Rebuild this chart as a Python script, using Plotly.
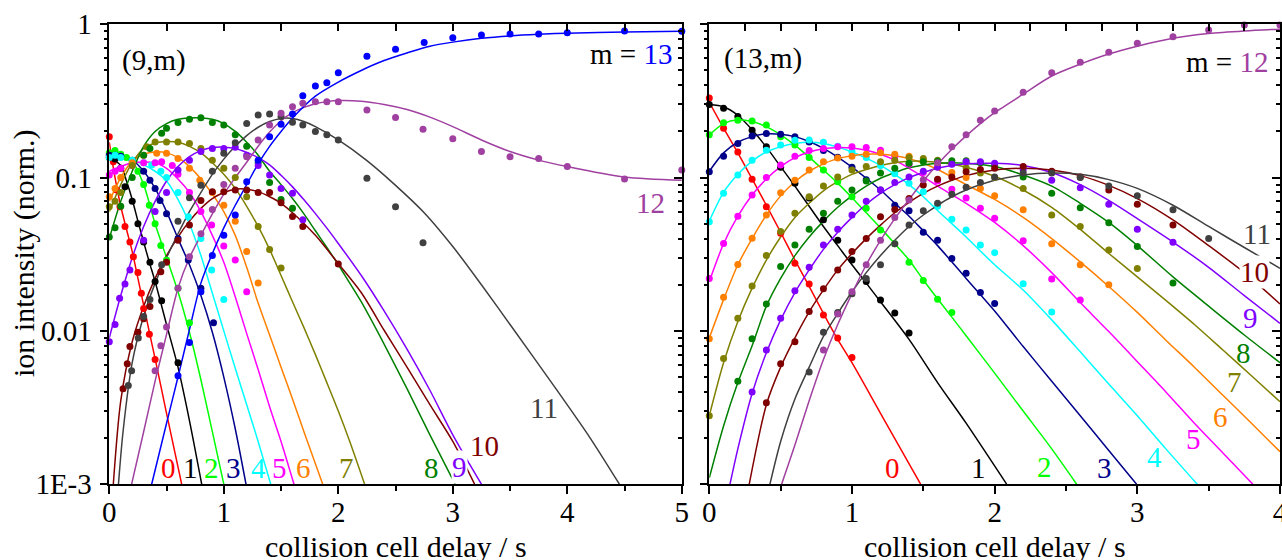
import plotly.graph_objects as go

# ---------------- (9,m) panel: fitted curves and measured points ----------------
a0_fit_t = [0, 0.05, 0.1, 0.15, 0.2, 0.25, 0.3, 0.35, 0.4, 0.5, 0.632]
a0_fit_v = [0.17, 0.1, 0.065, 0.046, 0.033, 0.022, 0.0147, 0.0098, 0.0066, 0.0029, 0.001]
a0_obs_t = [0, 0.035, 0.065, 0.093, 0.137, 0.18, 0.21, 0.25, 0.28, 0.3, 0.35, 0.4]
a0_obs_v = [0.185, 0.127, 0.083, 0.0645, 0.048, 0.038, 0.0305, 0.024, 0.0176, 0.014, 0.0095, 0.0065]

a1_fit_t = [0, 0.1, 0.15, 0.2, 0.25, 0.3, 0.35, 0.4, 0.5, 0.6, 0.7, 0.807]
a1_fit_v = [0.135, 0.12, 0.095, 0.072, 0.052, 0.038, 0.028, 0.021, 0.011, 0.0058, 0.0026, 0.001]
a1_obs_t = [0, 0.05, 0.1, 0.137, 0.2, 0.25, 0.3, 0.355, 0.4, 0.457, 0.6]
a1_obs_v = [0.135, 0.132, 0.115, 0.087, 0.07, 0.05, 0.038, 0.028, 0.021, 0.0157, 0.0062]

a2_fit_t = [0, 0.1, 0.2, 0.3, 0.4, 0.5, 0.6, 0.7, 0.8, 0.9, 1.0]
a2_fit_v = [0.145, 0.142, 0.128, 0.09, 0.05, 0.03, 0.018, 0.0098, 0.0048, 0.0022, 0.001]
a2_obs_t = [0, 0.05, 0.1, 0.15, 0.2, 0.25, 0.3, 0.35, 0.4, 0.45, 0.5, 0.6, 0.7]
a2_obs_v = [0.145, 0.15, 0.142, 0.135, 0.125, 0.11, 0.09, 0.066, 0.05, 0.036, 0.029, 0.019, 0.0113]

a3_fit_t = [0, 0.2, 0.3, 0.4, 0.5, 0.6, 0.7, 0.8, 0.9, 1.0, 1.1, 1.194]
a3_fit_v = [0.14, 0.13, 0.11, 0.085, 0.06, 0.04, 0.027, 0.017, 0.0098, 0.005, 0.0023, 0.001]
a3_obs_t = [0, 0.05, 0.1, 0.2, 0.3, 0.355, 0.4, 0.443, 0.5, 0.6, 0.69, 0.8, 0.91]
a3_obs_v = [0.14, 0.14, 0.138, 0.13, 0.11, 0.096, 0.085, 0.071, 0.058, 0.04, 0.029, 0.019, 0.0113]

a4_fit_t = [0, 0.2, 0.4, 0.5, 0.6, 0.7, 0.8, 0.865, 1.0, 1.1, 1.2, 1.3, 1.41]
a4_fit_v = [0.135, 0.13, 0.11, 0.095, 0.072, 0.05, 0.031, 0.0215, 0.01, 0.0057, 0.0033, 0.0019, 0.001]
a4_obs_t = [0, 0.05, 0.1, 0.2, 0.3, 0.37, 0.45, 0.5, 0.6, 0.69, 0.8, 0.894, 1.0]
a4_obs_v = [0.135, 0.14, 0.135, 0.13, 0.125, 0.121, 0.11, 0.1, 0.08, 0.0556, 0.04, 0.025, 0.016]

a5_fit_t = [0, 0.2, 0.4, 0.5, 0.6, 0.7, 0.8, 0.9, 1.0, 1.1, 1.2, 1.3, 1.4, 1.5, 1.613]
a5_fit_v = [0.11, 0.125, 0.125, 0.115, 0.098, 0.08, 0.06, 0.042, 0.028, 0.0167, 0.0096, 0.0056, 0.0032, 0.0019, 0.001]
a5_obs_t = [0, 0.05, 0.1, 0.2, 0.3, 0.4, 0.457, 0.55, 0.6, 0.7, 0.8, 0.894, 1.0, 1.1, 1.2]
a5_obs_v = [0.104, 0.11, 0.115, 0.12, 0.125, 0.125, 0.127, 0.12, 0.105, 0.08, 0.06, 0.049, 0.0358, 0.029, 0.018]

a6_fit_t = [0, 0.1, 0.2, 0.3, 0.4, 0.5, 0.6, 0.7, 0.8, 0.9, 1.0, 1.1, 1.2, 1.3, 1.4, 1.5, 1.6, 1.7, 1.864]
a6_fit_v = [0.07, 0.1, 0.128, 0.142, 0.147, 0.145, 0.135, 0.118, 0.098, 0.078, 0.06, 0.042, 0.026, 0.0152, 0.0094, 0.0058, 0.0036, 0.0022, 0.001]
a6_obs_t = [0, 0.05, 0.1, 0.2, 0.3, 0.414, 0.5, 0.6, 0.7, 0.79, 0.9, 1.0, 1.1, 1.2, 1.3]
a6_obs_v = [0.075, 0.085, 0.1, 0.125, 0.14, 0.144, 0.144, 0.133, 0.115, 0.096, 0.08, 0.066, 0.052, 0.033, 0.0205]

a7_fit_t = [0, 0.1, 0.2, 0.3, 0.4, 0.5, 0.6, 0.7, 0.8, 0.9, 1.0, 1.1, 1.2, 1.3, 1.4, 1.5, 1.6, 1.7, 1.8, 1.9, 2.0, 2.1, 2.23]
a7_fit_v = [0.06, 0.09, 0.125, 0.155, 0.168, 0.172, 0.17, 0.16, 0.145, 0.125, 0.105, 0.085, 0.065, 0.048, 0.034, 0.023, 0.0155, 0.0105, 0.007, 0.0046, 0.003, 0.0019, 0.001]
a7_obs_t = [0, 0.05, 0.1, 0.2, 0.327, 0.4, 0.5, 0.6, 0.7, 0.8, 0.9, 1.0, 1.1, 1.2, 1.3, 1.4, 1.5]
a7_obs_v = [0.0645, 0.07, 0.08, 0.12, 0.159, 0.171, 0.171, 0.171, 0.167, 0.155, 0.13, 0.115, 0.1, 0.075, 0.048, 0.034, 0.0257]

a8_fit_t = [0, 0.1, 0.2, 0.3, 0.4, 0.5, 0.6, 0.7, 0.8, 0.9, 1.0, 1.1, 1.2, 1.3, 1.4, 1.5, 1.6, 1.7, 1.8, 1.9, 2.0, 2.1, 2.2, 2.4, 2.6, 2.8, 3.02]
a8_fit_v = [0.04, 0.07, 0.11, 0.16, 0.2, 0.225, 0.24, 0.245, 0.245, 0.24, 0.225, 0.2, 0.17, 0.14, 0.11, 0.09, 0.073, 0.058, 0.045, 0.035, 0.027, 0.0205, 0.0155, 0.0082, 0.0042, 0.0021, 0.001]
a8_obs_t = [0, 0.05, 0.1, 0.2, 0.3, 0.355, 0.457, 0.5, 0.6, 0.7, 0.8, 0.9, 1.0, 1.1, 1.2, 1.3, 1.4, 1.5, 1.6]
a8_obs_v = [0.041, 0.047, 0.065, 0.1, 0.14, 0.155, 0.195, 0.21, 0.229, 0.24, 0.246, 0.229, 0.22, 0.19, 0.16, 0.125, 0.093, 0.072, 0.063]

a9_fit_t = [0, 0.1, 0.2, 0.3, 0.4, 0.5, 0.6, 0.7, 0.8, 0.9, 1.0, 1.1, 1.2, 1.3, 1.4, 1.5, 1.6, 1.7, 1.8, 1.9, 2.0, 2.22, 2.4, 2.6, 2.8, 3.0, 3.25]
a9_fit_v = [0.009, 0.017, 0.03, 0.048, 0.07, 0.095, 0.118, 0.137, 0.15, 0.157, 0.158, 0.155, 0.146, 0.135, 0.121, 0.1035, 0.087, 0.0716, 0.0582, 0.0468, 0.0372, 0.0219, 0.0135, 0.0076, 0.0041, 0.0021, 0.001]
a9_obs_t = [0, 0.05, 0.09, 0.137, 0.18, 0.3, 0.4, 0.5, 0.6, 0.7, 0.8, 0.9, 1.0, 1.1, 1.2, 1.3, 1.4, 1.5, 1.6, 1.69]
a9_obs_v = [0.0085, 0.011, 0.0163, 0.0202, 0.025, 0.039, 0.06, 0.08, 0.112, 0.13, 0.148, 0.155, 0.155, 0.158, 0.14, 0.12, 0.104, 0.085, 0.079, 0.053]

a10_fit_t = [0.035, 0.1, 0.2, 0.3, 0.4, 0.5, 0.6, 0.7, 0.8, 0.9, 1.0, 1.1, 1.2, 1.3, 1.4, 1.5, 1.6, 1.8, 2.0, 2.2, 2.4, 2.6, 2.8, 3.0, 3.19]
a10_fit_v = [0.001, 0.0035, 0.0085, 0.0145, 0.022, 0.031, 0.041, 0.052, 0.063, 0.073, 0.08, 0.084, 0.084, 0.081, 0.075, 0.068, 0.059, 0.042, 0.0275, 0.0178, 0.0101, 0.0058, 0.0033, 0.0019, 0.001]
a10_obs_t = [0.12, 0.157, 0.18, 0.25, 0.3, 0.355, 0.45, 0.5, 0.6, 0.7, 0.8, 0.9, 1.0, 1.1, 1.2, 1.3, 1.4, 1.5, 1.6, 1.69, 2.0]
a10_obs_v = [0.0042, 0.0061, 0.0079, 0.0098, 0.012, 0.0144, 0.0243, 0.028, 0.039, 0.049, 0.071, 0.081, 0.081, 0.083, 0.083, 0.08, 0.08, 0.0686, 0.0557, 0.048, 0.0273]

a11_fit_t = [0.08, 0.12, 0.2, 0.3, 0.4, 0.5, 0.6, 0.7, 0.8, 0.9, 1.0, 1.1, 1.2, 1.3, 1.4, 1.5, 1.6, 1.7, 1.8, 2.0, 2.25, 2.5, 2.75, 3.0, 3.25, 3.5, 3.9, 4.2, 4.455]
a11_fit_v = [0.001, 0.0022, 0.0062, 0.0125, 0.0205, 0.03, 0.043, 0.06, 0.08, 0.105, 0.132, 0.16, 0.188, 0.213, 0.232, 0.243, 0.243, 0.232, 0.215, 0.176, 0.129, 0.089, 0.059, 0.0355, 0.02, 0.011, 0.0042, 0.002, 0.001]
a11_obs_t = [0.166, 0.195, 0.253, 0.3, 0.355, 0.457, 0.6, 0.7, 0.8, 0.9, 1.0, 1.1, 1.2, 1.3, 1.4, 1.5, 1.6, 1.69, 1.8, 1.9, 2.0, 2.25, 2.5, 2.74]
a11_obs_v = [0.0044, 0.0055, 0.009, 0.0124, 0.016, 0.027, 0.052, 0.074, 0.089, 0.11, 0.144, 0.169, 0.225, 0.256, 0.26, 0.25, 0.23, 0.22, 0.2, 0.19, 0.176, 0.099, 0.0645, 0.0376]

a12_fit_t = [0.195, 0.3, 0.4, 0.5, 0.6, 0.7, 0.8, 0.9, 1.0, 1.1, 1.2, 1.3, 1.4, 1.5, 1.6, 1.7, 1.8, 1.9, 2.0, 2.2, 2.4, 2.6, 2.8, 3.0, 3.25, 3.5, 3.75, 4.0, 4.5, 5.0]
a12_fit_v = [0.001, 0.0022, 0.0047, 0.0095, 0.019, 0.03, 0.042, 0.058, 0.078, 0.1, 0.126, 0.16, 0.198, 0.235, 0.265, 0.287, 0.303, 0.313, 0.318, 0.315, 0.3, 0.278, 0.248, 0.215, 0.176, 0.148, 0.13, 0.118, 0.101, 0.096]
a12_obs_t = [0.4, 0.45, 0.5, 0.6, 0.7, 0.8, 0.9, 1.0, 1.1, 1.2, 1.3, 1.4, 1.5, 1.6, 1.69, 1.8, 1.9, 2.0, 2.25, 2.5, 2.74, 3.0, 3.25, 3.5, 3.75, 4.0, 4.5, 5.0]
a12_obs_v = [0.0055, 0.008, 0.0106, 0.019, 0.0305, 0.043, 0.062, 0.09, 0.115, 0.137, 0.176, 0.22, 0.263, 0.29, 0.305, 0.313, 0.313, 0.313, 0.276, 0.247, 0.207, 0.179, 0.148, 0.137, 0.133, 0.118, 0.098, 0.112]

a13_fit_t = [0.37, 0.5, 0.6, 0.7, 0.8, 0.9, 1.0, 1.1, 1.2, 1.3, 1.4, 1.5, 1.6, 1.8, 2.0, 2.2, 2.4, 2.6, 2.8, 3.0, 3.25, 3.5, 3.75, 4.0, 4.5, 5.0]
a13_fit_v = [0.001, 0.0025, 0.005, 0.0102, 0.0205, 0.032, 0.047, 0.066, 0.09, 0.123, 0.16, 0.2, 0.245, 0.34, 0.42, 0.5, 0.58, 0.65, 0.72, 0.765, 0.81, 0.84, 0.86, 0.875, 0.89, 0.9]
a13_obs_t = [0.6, 0.7, 0.8, 0.9, 1.0, 1.1, 1.2, 1.3, 1.4, 1.5, 1.6, 1.69, 1.8, 1.9, 2.0, 2.25, 2.5, 2.75, 3.0, 3.25, 3.5, 3.75, 4.0, 4.5, 5.0]
a13_obs_v = [0.0051, 0.0084, 0.018, 0.031, 0.042, 0.057, 0.094, 0.13, 0.185, 0.223, 0.26, 0.342, 0.396, 0.416, 0.483, 0.62, 0.687, 0.76, 0.818, 0.85, 0.864, 0.866, 0.88, 0.904, 0.9]

# ---------------- (13,m) panel: fitted curves and measured points ----------------
b0_fit_t = [0, 0.1, 0.2, 0.3, 0.4, 0.5, 0.6, 0.7, 0.8, 0.9, 1.0, 1.2, 1.481]
b0_fit_v = [0.31, 0.21, 0.145, 0.098, 0.066, 0.044, 0.029, 0.0195, 0.013, 0.0088, 0.0062, 0.0029, 0.001]
b0_obs_t = [0, 0.1, 0.2, 0.3, 0.4, 0.5, 0.6, 0.7, 0.8, 0.9, 1.0]
b0_obs_v = [0.33, 0.21, 0.147, 0.0975, 0.0646, 0.0433, 0.0276, 0.0202, 0.0127, 0.009, 0.0067]

b1_fit_t = [0, 0.1, 0.2, 0.3, 0.4, 0.5, 0.6, 0.7, 0.8, 0.9, 1.0, 1.1, 1.2, 1.4, 1.6, 1.8, 2.084]
b1_fit_v = [0.3, 0.29, 0.255, 0.205, 0.158, 0.118, 0.088, 0.065, 0.048, 0.036, 0.027, 0.0205, 0.0155, 0.0088, 0.0046, 0.0025, 0.001]
b1_obs_t = [0, 0.1, 0.2, 0.3, 0.4, 0.5, 0.6, 0.7, 0.8, 0.9, 1.0, 1.1, 1.2, 1.3, 1.4]
b1_obs_v = [0.3, 0.283, 0.25, 0.204, 0.159, 0.117, 0.092, 0.0735, 0.053, 0.039, 0.029, 0.021, 0.0159, 0.0131, 0.0097]

b2_fit_t = [0, 0.1, 0.2, 0.3, 0.4, 0.5, 0.6, 0.7, 0.8, 0.9, 1.0, 1.1, 1.2, 1.3, 1.4, 1.5, 1.6, 1.7, 1.8, 2.0, 2.2, 2.4, 2.575]
b2_fit_v = [0.19, 0.225, 0.238, 0.232, 0.215, 0.19, 0.163, 0.136, 0.112, 0.092, 0.074, 0.059, 0.047, 0.037, 0.029, 0.0215, 0.0162, 0.0123, 0.0093, 0.0053, 0.003, 0.0017, 0.001]
b2_obs_t = [0, 0.1, 0.2, 0.3, 0.4, 0.5, 0.6, 0.7, 0.8, 0.9, 1.0, 1.1, 1.2, 1.3, 1.4, 1.5, 1.6, 1.7]
b2_obs_v = [0.19, 0.228, 0.237, 0.234, 0.22, 0.185, 0.163, 0.135, 0.112, 0.094, 0.075, 0.063, 0.0455, 0.037, 0.028, 0.0213, 0.0161, 0.0132]

b3_fit_t = [0, 0.1, 0.2, 0.3, 0.4, 0.5, 0.6, 0.7, 0.8, 0.9, 1.0, 1.1, 1.2, 1.3, 1.4, 1.5, 1.6, 1.8, 2.0, 2.2, 2.4, 2.6, 2.8, 2.995]
b3_fit_v = [0.11, 0.145, 0.17, 0.185, 0.193, 0.192, 0.185, 0.172, 0.155, 0.136, 0.117, 0.099, 0.083, 0.068, 0.056, 0.045, 0.036, 0.022, 0.0135, 0.0079, 0.0047, 0.0028, 0.00166, 0.001]
b3_obs_t = [0, 0.1, 0.2, 0.3, 0.4, 0.5, 0.6, 0.7, 0.8, 0.9, 1.0, 1.1, 1.2, 1.3, 1.4, 1.5, 1.6, 1.7, 1.8, 1.9, 2.0]
b3_obs_v = [0.109, 0.138, 0.167, 0.187, 0.194, 0.192, 0.185, 0.171, 0.15, 0.136, 0.117, 0.097, 0.083, 0.066, 0.0608, 0.044, 0.039, 0.0297, 0.0238, 0.0178, 0.0151]

b4_fit_t = [0, 0.1, 0.2, 0.3, 0.4, 0.5, 0.6, 0.7, 0.8, 0.9, 1.0, 1.1, 1.2, 1.3, 1.4, 1.5, 1.6, 1.8, 2.0, 2.2, 2.4, 2.6, 2.8, 3.0, 3.2, 3.42]
b4_fit_v = [0.052, 0.08, 0.105, 0.128, 0.147, 0.159, 0.167, 0.17, 0.167, 0.158, 0.147, 0.134, 0.12, 0.105, 0.09, 0.075, 0.061, 0.041, 0.027, 0.0185, 0.0118, 0.0073, 0.0045, 0.0028, 0.0017, 0.001]
b4_obs_t = [0, 0.1, 0.2, 0.3, 0.4, 0.5, 0.6, 0.7, 0.8, 0.9, 1.0, 1.1, 1.2, 1.3, 1.4, 1.5, 1.6, 1.7, 1.8, 1.9, 2.0, 2.2, 2.4]
b4_obs_v = [0.0516, 0.079, 0.104, 0.13, 0.151, 0.163, 0.175, 0.176, 0.17, 0.16, 0.148, 0.135, 0.12, 0.106, 0.092, 0.081, 0.065, 0.0535, 0.0455, 0.0363, 0.0324, 0.0203, 0.0133]

b5_fit_t = [0, 0.1, 0.2, 0.3, 0.4, 0.5, 0.6, 0.7, 0.8, 0.9, 1.0, 1.1, 1.2, 1.3, 1.4, 1.5, 1.6, 1.8, 2.0, 2.2, 2.4, 2.6, 2.8, 3.0, 3.2, 3.4, 3.6, 3.81]
b5_fit_v = [0.021, 0.037, 0.056, 0.077, 0.098, 0.118, 0.135, 0.147, 0.154, 0.157, 0.156, 0.151, 0.142, 0.13, 0.115, 0.101, 0.088, 0.068, 0.051, 0.036, 0.024, 0.0153, 0.0099, 0.0063, 0.004, 0.0025, 0.0016, 0.001]
b5_obs_t = [0, 0.1, 0.2, 0.3, 0.4, 0.5, 0.6, 0.7, 0.8, 0.9, 1.0, 1.1, 1.2, 1.3, 1.4, 1.5, 1.6, 1.7, 1.8, 1.9, 2.0, 2.2, 2.4, 2.6]
b5_obs_v = [0.022, 0.0372, 0.0559, 0.0771, 0.1, 0.121, 0.138, 0.15, 0.155, 0.159, 0.159, 0.157, 0.151, 0.138, 0.122, 0.108, 0.095, 0.0838, 0.0735, 0.063, 0.0543, 0.0387, 0.0218, 0.0159]

b6_fit_t = [0, 0.1, 0.2, 0.3, 0.4, 0.5, 0.6, 0.7, 0.8, 0.9, 1.0, 1.1, 1.2, 1.3, 1.4, 1.5, 1.6, 1.8, 2.0, 2.2, 2.4, 2.6, 2.8, 3.0, 3.2, 3.4, 3.6, 3.8, 4.0]
b6_fit_v = [0.009, 0.016, 0.027, 0.04, 0.057, 0.076, 0.094, 0.11, 0.123, 0.133, 0.139, 0.142, 0.142, 0.139, 0.133, 0.124, 0.113, 0.09, 0.072, 0.055, 0.04, 0.0282, 0.0195, 0.0132, 0.0087, 0.0058, 0.0038, 0.0025, 0.00163]
b6_obs_t = [0, 0.1, 0.2, 0.3, 0.4, 0.5, 0.6, 0.7, 0.8, 0.9, 1.0, 1.1, 1.2, 1.3, 1.4, 1.5, 1.6, 1.7, 1.8, 1.9, 2.0, 2.2, 2.4, 2.6, 2.8]
b6_obs_v = [0.0089, 0.0166, 0.0271, 0.0402, 0.0571, 0.0797, 0.096, 0.112, 0.127, 0.134, 0.138, 0.142, 0.145, 0.142, 0.138, 0.13, 0.12, 0.108, 0.1, 0.085, 0.076, 0.0616, 0.037, 0.027, 0.02]

b7_fit_t = [0, 0.1, 0.2, 0.3, 0.4, 0.5, 0.6, 0.7, 0.8, 0.9, 1.0, 1.1, 1.2, 1.3, 1.4, 1.5, 1.6, 1.8, 2.0, 2.2, 2.4, 2.6, 2.8, 3.0, 3.2, 3.4, 3.6, 3.8, 4.0]
b7_fit_v = [0.0028, 0.0062, 0.0115, 0.019, 0.029, 0.041, 0.055, 0.068, 0.082, 0.094, 0.105, 0.113, 0.12, 0.125, 0.128, 0.128, 0.126, 0.117, 0.102, 0.083, 0.064, 0.046, 0.032, 0.0225, 0.0158, 0.011, 0.0075, 0.0051, 0.00345]
b7_obs_t = [0, 0.1, 0.2, 0.3, 0.4, 0.5, 0.6, 0.7, 0.8, 0.9, 1.0, 1.1, 1.2, 1.3, 1.4, 1.5, 1.6, 1.7, 1.8, 1.9, 2.0, 2.2, 2.4, 2.6, 2.8, 3.0]
b7_obs_v = [0.0028, 0.0066, 0.0121, 0.0196, 0.031, 0.0445, 0.0586, 0.075, 0.088, 0.101, 0.112, 0.118, 0.127, 0.13, 0.135, 0.133, 0.13, 0.123, 0.116, 0.107, 0.1, 0.085, 0.0571, 0.048, 0.0337, 0.0255]

b8_fit_t = [0, 0.1, 0.2, 0.3, 0.4, 0.5, 0.6, 0.7, 0.8, 0.9, 1.0, 1.1, 1.2, 1.3, 1.4, 1.5, 1.6, 1.7, 1.8, 2.0, 2.2, 2.4, 2.6, 2.8, 3.0, 3.25, 3.5, 3.75, 4.0]
b8_fit_v = [0.0011, 0.0024, 0.0046, 0.008, 0.0145, 0.022, 0.031, 0.041, 0.052, 0.064, 0.076, 0.088, 0.099, 0.108, 0.116, 0.121, 0.124, 0.125, 0.124, 0.118, 0.104, 0.088, 0.068, 0.051, 0.036, 0.0225, 0.0145, 0.0094, 0.0062]
b8_obs_t = [0.2, 0.3, 0.4, 0.5, 0.6, 0.7, 0.8, 0.9, 1.0, 1.1, 1.2, 1.3, 1.4, 1.5, 1.6, 1.7, 1.8, 1.9, 2.0, 2.2, 2.4, 2.6, 2.8, 3.0, 3.25]
b8_obs_v = [0.0047, 0.0089, 0.015, 0.0263, 0.0363, 0.046, 0.0586, 0.07, 0.083, 0.095, 0.107, 0.115, 0.124, 0.127, 0.128, 0.129, 0.129, 0.125, 0.12, 0.101, 0.079, 0.0636, 0.0508, 0.0355, 0.0205]

b9_fit_t = [0.145, 0.2, 0.3, 0.4, 0.5, 0.6, 0.7, 0.8, 0.9, 1.0, 1.1, 1.2, 1.3, 1.4, 1.5, 1.6, 1.7, 1.8, 2.0, 2.2, 2.4, 2.6, 2.8, 3.0, 3.25, 3.5, 3.75, 4.0]
b9_fit_v = [0.001, 0.0017, 0.0039, 0.0072, 0.0118, 0.0178, 0.025, 0.034, 0.044, 0.055, 0.067, 0.079, 0.09, 0.1, 0.108, 0.115, 0.12, 0.123, 0.124, 0.12, 0.108, 0.09, 0.071, 0.054, 0.038, 0.026, 0.017, 0.0112]
b9_obs_t = [0.3, 0.4, 0.5, 0.6, 0.7, 0.8, 0.9, 1.0, 1.1, 1.2, 1.3, 1.4, 1.5, 1.6, 1.7, 1.8, 1.9, 2.0, 2.2, 2.4, 2.6, 2.8, 3.0, 3.25]
b9_obs_v = [0.004, 0.0075, 0.0121, 0.0183, 0.026, 0.0363, 0.046, 0.0571, 0.07, 0.083, 0.093, 0.101, 0.11, 0.117, 0.122, 0.127, 0.127, 0.124, 0.113, 0.096, 0.086, 0.067, 0.046, 0.0378]

b10_fit_t = [0.28, 0.4, 0.5, 0.6, 0.7, 0.8, 0.9, 1.0, 1.1, 1.2, 1.3, 1.4, 1.5, 1.6, 1.7, 1.8, 2.0, 2.2, 2.4, 2.6, 2.8, 3.0, 3.25, 3.5, 3.75, 4.0]
b10_fit_v = [0.001, 0.0033, 0.0058, 0.009, 0.0133, 0.0185, 0.025, 0.032, 0.04, 0.049, 0.059, 0.069, 0.079, 0.088, 0.096, 0.103, 0.112, 0.115, 0.112, 0.103, 0.089, 0.073, 0.053, 0.036, 0.024, 0.015]
b10_obs_t = [0.4, 0.5, 0.6, 0.7, 0.8, 0.9, 1.0, 1.1, 1.2, 1.3, 1.4, 1.5, 1.6, 1.7, 1.8, 1.9, 2.0, 2.2, 2.4, 2.6, 2.8, 3.0, 3.25]
b10_obs_v = [0.0034, 0.0061, 0.0085, 0.0134, 0.0188, 0.025, 0.033, 0.04, 0.0556, 0.062, 0.073, 0.0895, 0.0975, 0.101, 0.109, 0.113, 0.115, 0.118, 0.11, 0.101, 0.083, 0.067, 0.049]

b11_fit_t = [0.425, 0.5, 0.6, 0.7, 0.8, 0.9, 1.0, 1.1, 1.2, 1.3, 1.4, 1.5, 1.6, 1.7, 1.8, 2.0, 2.2, 2.4, 2.6, 2.8, 3.0, 3.25, 3.5, 3.75, 4.0]
b11_fit_v = [0.001, 0.0019, 0.0036, 0.0058, 0.0092, 0.013, 0.018, 0.024, 0.031, 0.039, 0.048, 0.057, 0.066, 0.075, 0.083, 0.096, 0.104, 0.107, 0.105, 0.097, 0.085, 0.066, 0.048, 0.035, 0.0256]
b11_obs_t = [0.7, 0.8, 0.9, 1.0, 1.1, 1.2, 1.3, 1.4, 1.5, 1.6, 1.7, 1.8, 1.9, 2.0, 2.2, 2.4, 2.6, 2.8, 3.0, 3.25, 3.5]
b11_obs_v = [0.0054, 0.0098, 0.0132, 0.0175, 0.022, 0.027, 0.037, 0.049, 0.0608, 0.068, 0.078, 0.0865, 0.093, 0.101, 0.107, 0.107, 0.1, 0.088, 0.076, 0.0616, 0.04]

b12_fit_t = [0.507, 0.6, 0.7, 0.8, 0.9, 1.0, 1.1, 1.2, 1.3, 1.4, 1.5, 1.6, 1.7, 1.8, 1.9, 2.0, 2.2, 2.4, 2.6, 2.8, 3.0, 3.25, 3.5, 3.75, 4.0]
b12_fit_v = [0.001, 0.0018, 0.0035, 0.0065, 0.011, 0.0175, 0.027, 0.039, 0.054, 0.072, 0.095, 0.122, 0.153, 0.187, 0.225, 0.265, 0.35, 0.46, 0.55, 0.64, 0.72, 0.81, 0.87, 0.905, 0.93]
b12_obs_t = [0.8, 0.9, 1.0, 1.1, 1.2, 1.3, 1.4, 1.5, 1.6, 1.7, 1.8, 1.9, 2.0, 2.2, 2.4, 2.6, 2.8, 3.0, 3.25, 3.5, 3.75, 4.0]
b12_obs_v = [0.0075, 0.0129, 0.018, 0.027, 0.039, 0.055, 0.0714, 0.097, 0.125, 0.159, 0.19, 0.237, 0.272, 0.36, 0.483, 0.565, 0.657, 0.752, 0.83, 0.918, 0.99, 0.99]

# y-axis tick labels
y_tick_vals = [0.001, 0.01, 0.1, 1]
y_tick_text = ["1E-3", "0.01", "0.1", "1"]

series_colors = {
    0: "#ff0000", 1: "#000000", 2: "#00ff00", 3: "#00008b", 4: "#00ffff",
    5: "#ff00ff", 6: "#ff8000", 7: "#808000", 8: "#008000", 9: "#8000ff",
    10: "#800000", 11: "#404040", 12: "#a040a0", 13: "#0000ff",
}

panel_9 = [
    (0, a0_fit_t, a0_fit_v, a0_obs_t, a0_obs_v),
    (1, a1_fit_t, a1_fit_v, a1_obs_t, a1_obs_v),
    (2, a2_fit_t, a2_fit_v, a2_obs_t, a2_obs_v),
    (3, a3_fit_t, a3_fit_v, a3_obs_t, a3_obs_v),
    (4, a4_fit_t, a4_fit_v, a4_obs_t, a4_obs_v),
    (5, a5_fit_t, a5_fit_v, a5_obs_t, a5_obs_v),
    (6, a6_fit_t, a6_fit_v, a6_obs_t, a6_obs_v),
    (7, a7_fit_t, a7_fit_v, a7_obs_t, a7_obs_v),
    (8, a8_fit_t, a8_fit_v, a8_obs_t, a8_obs_v),
    (9, a9_fit_t, a9_fit_v, a9_obs_t, a9_obs_v),
    (10, a10_fit_t, a10_fit_v, a10_obs_t, a10_obs_v),
    (11, a11_fit_t, a11_fit_v, a11_obs_t, a11_obs_v),
    (12, a12_fit_t, a12_fit_v, a12_obs_t, a12_obs_v),
    (13, a13_fit_t, a13_fit_v, a13_obs_t, a13_obs_v),
]
panel_13 = [
    (0, b0_fit_t, b0_fit_v, b0_obs_t, b0_obs_v),
    (1, b1_fit_t, b1_fit_v, b1_obs_t, b1_obs_v),
    (2, b2_fit_t, b2_fit_v, b2_obs_t, b2_obs_v),
    (3, b3_fit_t, b3_fit_v, b3_obs_t, b3_obs_v),
    (4, b4_fit_t, b4_fit_v, b4_obs_t, b4_obs_v),
    (5, b5_fit_t, b5_fit_v, b5_obs_t, b5_obs_v),
    (6, b6_fit_t, b6_fit_v, b6_obs_t, b6_obs_v),
    (7, b7_fit_t, b7_fit_v, b7_obs_t, b7_obs_v),
    (8, b8_fit_t, b8_fit_v, b8_obs_t, b8_obs_v),
    (9, b9_fit_t, b9_fit_v, b9_obs_t, b9_obs_v),
    (10, b10_fit_t, b10_fit_v, b10_obs_t, b10_obs_v),
    (11, b11_fit_t, b11_fit_v, b11_obs_t, b11_obs_v),
    (12, b12_fit_t, b12_fit_v, b12_obs_t, b12_obs_v),
]

FONT = "Liberation Serif, Times New Roman, serif"
W, H = 1282, 560
fig = go.Figure()

for panel, xa, ya in ((panel_9, "x", "y"), (panel_13, "x2", "y2")):
    for m, ft, fv, _, _ in panel:
        fig.add_trace(go.Scatter(
            x=ft, y=fv, mode="lines", xaxis=xa, yaxis=ya,
            line=dict(color=series_colors[m], width=1.5, shape="spline", smoothing=0.8),
            showlegend=False, hoverinfo="skip"))
    for m, _, _, ot, ov in panel:
        fig.add_trace(go.Scatter(
            x=ot, y=ov, mode="markers", xaxis=xa, yaxis=ya, cliponaxis=False,
            marker=dict(color=series_colors[m], size=7, line=dict(width=0)),
            showlegend=False, hoverinfo="skip"))

# empty traces that carry the mirrored top/right axes
for xa, ya in (("x3", "y3"), ("x4", "y4")):
    fig.add_trace(go.Scatter(x=[], y=[], xaxis=xa, yaxis=ya, showlegend=False))

# plot-area geometry (paper fractions)
xL = [109.3 / W, 681.8 / W]
xR = [709.3 / W, 1280.0 / W]
yD = [1 - 484.2 / H, 1 - 24.3 / H]

tick_font = dict(family=FONT, size=29, color="black")
line_style = dict(showline=True, linecolor="black", linewidth=1.5, showgrid=False,
                  zeroline=False, tickcolor="black", tickwidth=1.5, automargin=False)


def bottom_axis(dom, rng, anchor):
    return dict(domain=dom, range=rng, anchor=anchor, ticks="outside", ticklen=8,
                tickmode="linear", tick0=0, dtick=1, tickfont=tick_font,
                ticklabelstandoff=-7, ticklabeloverflow="allow",
                minor=dict(ticks="outside", ticklen=5, tickmode="linear", tick0=0, dtick=0.5,
                           tickcolor="black", tickwidth=1.5, showgrid=False),
                **line_style)


def top_axis(rng, over, anchor, step):
    return dict(overlaying=over, side="top", anchor=anchor, range=rng, ticks="inside",
                ticklen=7, tickmode="linear", tick0=0, dtick=step, showticklabels=False,
                **line_style)


def left_axis(anchor, labels):
    return dict(domain=yD, anchor=anchor, type="log", range=[-3, 0], ticks="outside", ticklen=8,
                tickmode="array", tickvals=y_tick_vals, ticktext=y_tick_text,
                showticklabels=labels, tickfont=tick_font, ticklabelstandoff=2,
                minor=dict(ticks="outside", ticklen=4, tickmode="linear", dtick="D1",
                           tickcolor="black", tickwidth=1.5, showgrid=False),
                **line_style)


def right_axis(over, anchor):
    return dict(overlaying=over, side="right", anchor=anchor, type="log", range=[-3, 0],
                ticks="inside", ticklen=8, tickmode="array", tickvals=y_tick_vals,
                showticklabels=False,
                minor=dict(ticks="inside", ticklen=4, tickmode="linear", dtick="D1",
                           tickcolor="black", tickwidth=1.5, showgrid=False),
                **line_style)


fig.update_layout(
    width=W, height=H, margin=dict(l=0, r=0, t=0, b=0, autoexpand=False),
    paper_bgcolor="white", plot_bgcolor="white",
    font=dict(family=FONT, color="black"),
    xaxis=bottom_axis(xL, [0, 5], "y"),
    yaxis=left_axis("x", True),
    xaxis2=bottom_axis(xR, [0, 4], "y2"),
    yaxis2=left_axis("x2", False),
    xaxis3=top_axis([0, 5], "x", "y", 0.5),
    yaxis3=right_axis("y", "x"),
    xaxis4=top_axis([0, 4], "x2", "y2", 0.25),
    yaxis4=right_axis("y2", "x2"),
)

label_font = 29
ann = []


def lab(text, xref, yref, x, ylog, color, **kw):
    d = dict(text=text, xref=xref, yref=yref, x=x, y=ylog, showarrow=False,
             font=dict(family=FONT, size=label_font, color=color),
             xanchor="center", yanchor="middle")
    d.update(kw)
    ann.append(d)


# curve labels, (9,m)
for m, x, yl in [(0, 0.515, -2.894), (1, 0.705, -2.894), (2, 0.894, -2.894), (3, 1.083, -2.894),
                 (4, 1.30, -2.894), (5, 1.49, -2.894), (6, 1.695, -2.894), (7, 2.07, -2.894),
                 (8, 2.81, -2.894), (11, 3.797, -2.503), (12, 4.728, -1.166)]:
    lab(str(m), "x", "y", x, yl, series_colors[m])
lab("9", "x", "y", 3.06, -2.89, series_colors[9], bgcolor="white", borderpad=0)
lab("10", "x", "y", 3.28, -2.751, series_colors[10], bgcolor="white", borderpad=0)
lab("m = <span style='color:#0000ff'>13</span>", "x", "y", 4.93, -0.194, "black", xanchor="right")
lab("(9,m)", "x", "y", 0.093, -0.233, "black", xanchor="left")

# curve labels, (13,m)
for m, x, yl in [(0, 1.283, -2.894), (1, 1.885, -2.894), (2, 2.352, -2.888), (3, 2.773, -2.897),
                 (4, 3.119, -2.82), (5, 3.397, -2.707), (6, 3.584, -2.564), (7, 3.684, -2.331),
                 (8, 3.747, -2.146), (9, 3.79, -1.918), (11, 3.836, -1.368)]:
    lab(str(m), "x2", "y2", x, yl, series_colors[m])
lab("10", "x2", "y2", 3.824, -1.617, series_colors[10], bgcolor="white", borderpad=0)
lab("m = <span style='color:#a040a0'>12</span>", "x2", "y2", 3.929, -0.248, "black", xanchor="right")
lab("(13,m)", "x2", "y2", 0.087, -0.222, "black", xanchor="left")

# axis titles
for dom in (xL, xR):
    ann.append(dict(text="collision cell delay / s", xref="paper", yref="paper",
                    x=(dom[0] + dom[1]) / 2, y=1 - 546 / H, showarrow=False,
                    xanchor="center", yanchor="middle",
                    font=dict(family=FONT, size=30, color="black")))
ann.append(dict(text="ion intensity (norm.)", xref="paper", yref="paper",
                x=24 / W, y=1 - 254 / H, showarrow=False, textangle=-90,
                xanchor="center", yanchor="middle",
                font=dict(family=FONT, size=30, color="black")))

fig.update_layout(annotations=ann)
fig.write_html("out.html")
